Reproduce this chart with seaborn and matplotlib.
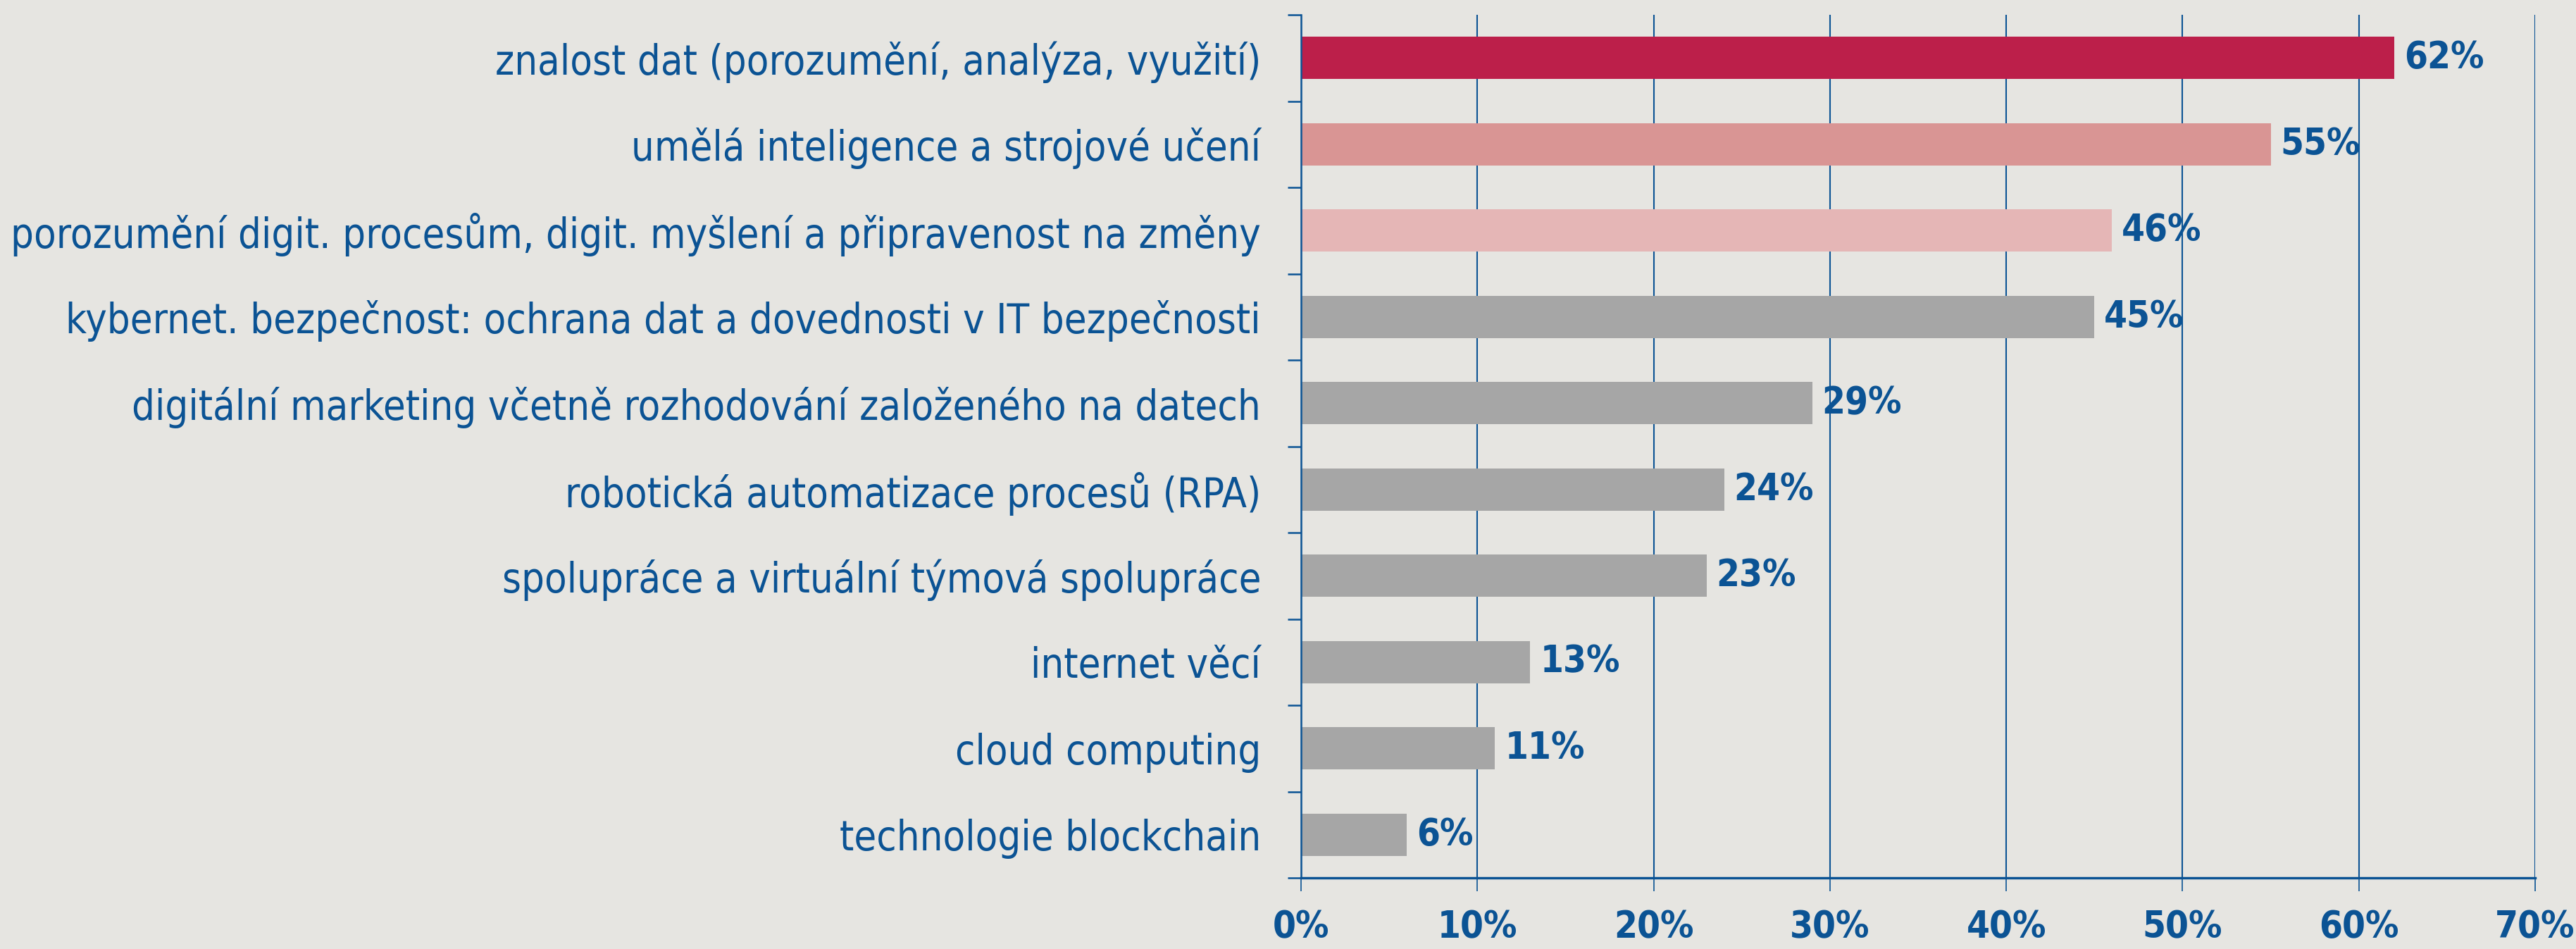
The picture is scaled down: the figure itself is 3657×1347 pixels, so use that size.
import matplotlib
matplotlib.use("Agg")
import numpy as np
import matplotlib.pyplot as plt
from matplotlib import font_manager
import seaborn as sns

# Data
categories = [
    "znalost dat (porozumění, analýza, využití)",
    "umělá inteligence a strojové učení",
    "porozumění digit. procesům, digit. myšlení a připravenost na změny",
    "kybernet. bezpečnost: ochrana dat a dovednosti v IT bezpečnosti",
    "digitální marketing včetně rozhodování založeného na datech",
    "robotická automatizace procesů (RPA)",
    "spolupráce a virtuální týmová spolupráce",
    "internet věcí",
    "cloud computing",
    "technologie blockchain",
]
values = [62, 55, 46, 45, 29, 24, 23, 13, 11, 6]
bar_colors = ["#BC1F4A", "#D99594", "#E5B6B6"] + ["#A6A6A6"] * 7
x_ticks = [0, 10, 20, 30, 40, 50, 60, 70]
x_tick_labels = [f"{t}%" for t in x_ticks]

BG = "#E6E5E1"
BLUE = "#0B5394"

# pick a narrow font if one is installed
names = {f.name for f in font_manager.fontManager.ttflist}
dejavu_cond = any(f.name == "DejaVu Sans" and f.stretch == "condensed"
                  for f in font_manager.fontManager.ttflist)
font = "DejaVu Sans"
stretch = "condensed" if dejavu_cond else "normal"
for n in ["Roboto Condensed", "Liberation Sans Narrow", "Open Sans Condensed"]:
    if n in names and not dejavu_cond:
        font = n
        break

sns.set_theme(style="white")
plt.rcParams["font.family"] = [font, "DejaVu Sans"]
plt.rcParams["font.stretch"] = stretch

fig = plt.figure(figsize=(36.57, 13.47), dpi=100, facecolor=BG)
W, H = 3657, 1347
ax = fig.add_axes([1847 / W, (H - 1246) / H, (3599 - 1847) / W, (1246 - 21) / H])
ax.set_facecolor(BG)

sns.barplot(x=values, y=categories, hue=categories, palette=bar_colors,
            legend=False, width=0.49, orient="h", saturation=1, linewidth=0,
            ax=ax)

for c in ax.containers:
    ax.bar_label(c, fmt="%g%%", padding=10, color=BLUE, fontsize=38,
                 fontweight="bold")

ax.set_xlim(0, 70)
ax.set_ylim(9.5, -0.5)
ax.set_xticks(x_ticks)
ax.set_xticklabels(x_tick_labels)
ax.set_yticks(np.arange(-0.5, 10, 1), minor=True)
ax.set_xlabel("")
ax.set_ylabel("")

ax.grid(axis="x", color=BLUE, linewidth=1.5)
ax.set_axisbelow(True)
for s in ["top", "right"]:
    ax.spines[s].set_visible(False)
ax.spines["left"].set_color(BLUE)
ax.spines["left"].set_linewidth(1.8)
ax.spines["bottom"].set_color(BLUE)
ax.spines["bottom"].set_linewidth(2.5)

ax.tick_params(axis="x", length=13.7, width=1.2, color=BLUE, labelcolor=BLUE,
               labelsize=38, pad=18, direction="out", bottom=True)
for t in ax.get_xticklabels():
    t.set_fontweight("bold")
ax.tick_params(axis="y", which="major", length=0, pad=41, labelcolor=BLUE,
               labelsize=41.5)
ax.tick_params(axis="y", which="minor", length=13.7, width=1.8, color=BLUE,
               left=True)

fig.savefig("out.png", dpi=100, facecolor=BG)
